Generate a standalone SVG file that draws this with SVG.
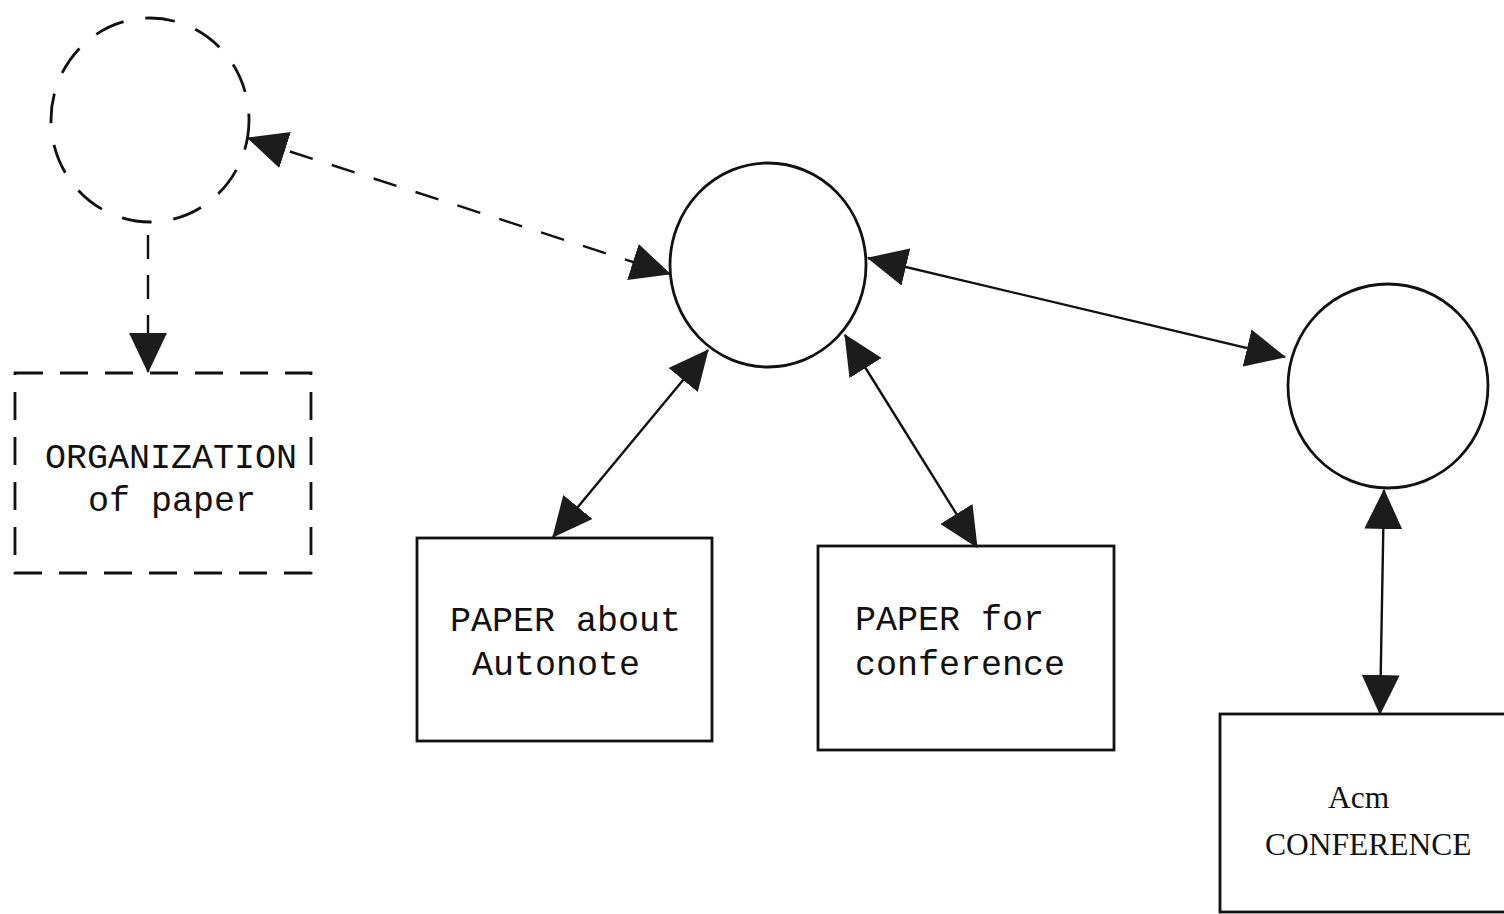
<svg xmlns="http://www.w3.org/2000/svg" width="1504" height="914" viewBox="0 0 1504 914">
<style>
.node{fill:#fff;stroke:#111;stroke-width:2.8}
.dash{stroke-dasharray:30 22}
.conn{fill:none;stroke:#111;stroke-width:2.4}
.mono{font-family:"Liberation Mono","DejaVu Sans Mono",monospace;font-size:35px;fill:#111}
.serif{font-family:"Liberation Serif","DejaVu Serif",serif;font-size:31.5px;fill:#111}
</style>
<defs>
<marker id="ah" markerUnits="userSpaceOnUse" markerWidth="40" markerHeight="40" viewBox="0 0 38 36" refX="37" refY="18" orient="auto-start-reverse">
<path d="M0,0 L38,18 L0,36 z" fill="#1c1c1c" stroke="none"/>
</marker>
</defs>
<rect width="1504" height="914" fill="#fff"/>
<g id="n-dashed-circle"><ellipse class="node dash" cx="150" cy="120" rx="99" ry="102" fill="none"/></g>
<g id="n-organization"><rect class="node dash" x="15" y="373" width="296" height="200" style="stroke-dasharray:28 17"/>
<text class="mono" x="45" y="468">ORGANIZATION</text><text class="mono" x="88" y="511">of paper</text></g>
<g id="n-circle1"><ellipse class="node" cx="768" cy="265" rx="98" ry="102"/></g>
<g id="n-circle2"><ellipse class="node" cx="1388" cy="386" rx="100" ry="102"/></g>
<g id="n-paper-autonote"><rect class="node" x="417" y="538" width="295" height="203"/>
<text class="mono" x="450" y="631">PAPER about</text><text class="mono" x="472" y="675">Autonote</text></g>
<g id="n-paper-conference"><rect class="node" x="818" y="546" width="296" height="204"/>
<text class="mono" x="855" y="630">PAPER for</text><text class="mono" x="855" y="675">conference</text></g>
<g id="n-acm"><rect class="node" x="1220" y="714" width="290" height="198"/>
<text class="serif" x="1328" y="808">Acm</text><text class="serif" x="1265" y="855">CONFERENCE</text></g>
<g id="connectors">
<line class="conn" x1="148" y1="235" x2="148" y2="372" style="stroke-dasharray:24 16" marker-end="url(#ah)"/>
<line class="conn" x1="248" y1="138" x2="670" y2="274" style="stroke-dasharray:24 20" marker-start="url(#ah)" marker-end="url(#ah)"/>
<line class="conn" x1="868" y1="258" x2="1285" y2="357" marker-start="url(#ah)" marker-end="url(#ah)"/>
<line class="conn" x1="708" y1="350" x2="553" y2="537" marker-start="url(#ah)" marker-end="url(#ah)"/>
<line class="conn" x1="845" y1="335" x2="977" y2="547" marker-start="url(#ah)" marker-end="url(#ah)"/>
<line class="conn" x1="1384" y1="490" x2="1380" y2="714" marker-start="url(#ah)" marker-end="url(#ah)"/>
</g>
</svg>
